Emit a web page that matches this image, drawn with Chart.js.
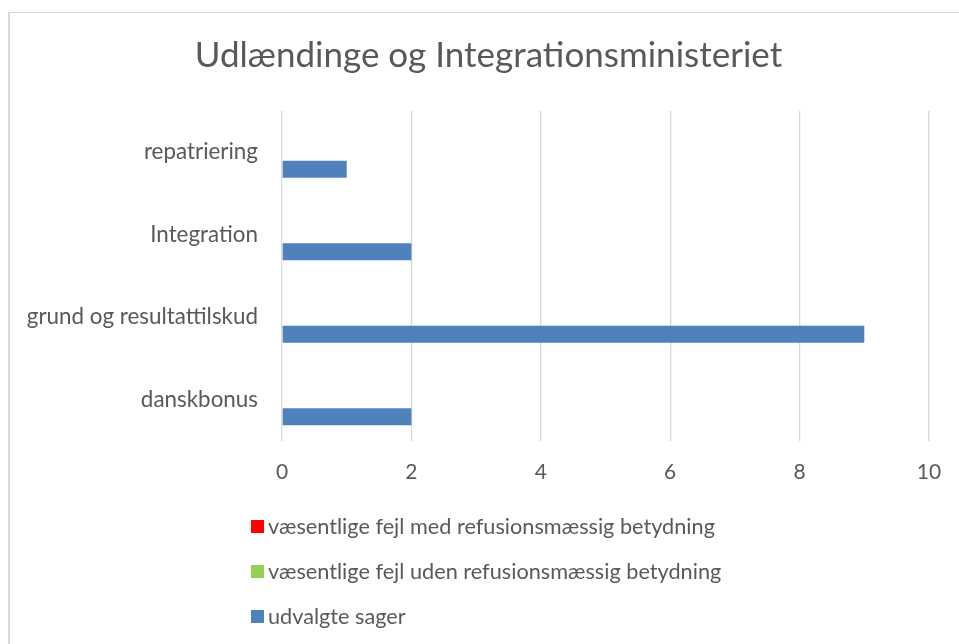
<!DOCTYPE html>
<html>
<head>
<meta charset="utf-8">
<script src="https://cdn.jsdelivr.net/npm/chart.js@4.4.0/dist/chart.umd.min.js"></script>
<style>
  html, body { margin: 0; padding: 0; background: #fff; overflow: hidden; }
  #frame { position: absolute; left: 8px; top: 12px; width: 1000px; height: 700px;
           border-top: 1px solid #d9d9d9; border-left: 2px solid #d9d9d9; }
  #wrap { position: absolute; left: 0; top: 0; width: 959px; height: 644px; }
  #legend { position: absolute; left: 251px; top: 0; font-family: Lato, "Open Sans", sans-serif;
            font-size: 21.7px; color: #595959; }
  .item { position: absolute; left: 0; white-space: nowrap; display: flex; align-items: center; height: 26px; }
  .box { width: 13px; height: 13px; margin-right: 4px; flex: none; }
</style>
</head>
<body>
<div id="frame"></div>
<div id="wrap"><canvas id="c"></canvas></div>
<div id="legend"></div>
<script>
const titleText = 'Udlændinge og Integrationsministeriet';
const categories = ['repatriering', 'Integration', 'grund og resultattilskud', 'danskbonus'];
const seriesNames = [
  'væsentlige fejl med refusionsmæssig betydning',
  'væsentlige fejl uden refusionsmæssig betydning',
  'udvalgte sager'
];
const fejlMedRefusion = [0, 0, 0, 0];
const fejlUdenRefusion = [0, 0, 0, 0];
const udvalgteSager = [1, 2, 9, 2];
const xTicks = [0, 2, 4, 6, 8, 10];
const seriesColors = ['#FF0000', '#92D050', '#4F81BD'];

const FONT = 'Lato, "Open Sans", sans-serif';
const TEXT = '#595959';

// shift the title box so it is centred like the reference
const titleShift = {
  id: 'titleShift',
  afterLayout(c) { if (c.titleBlock) { c.titleBlock.left = 48; } }
};

const chart = new Chart(document.getElementById('c'), {
  type: 'bar',
  data: {
    labels: categories,
    datasets: [
      { label: seriesNames[0], data: fejlMedRefusion, backgroundColor: seriesColors[0] },
      { label: seriesNames[1], data: fejlUdenRefusion, backgroundColor: seriesColors[1] },
      { label: seriesNames[2], data: udvalgteSager, backgroundColor: seriesColors[2] }
    ]
  },
  plugins: [titleShift],
  options: {
    indexAxis: 'y',
    responsive: true,
    maintainAspectRatio: false,
    animation: false,
    datasets: { bar: { barPercentage: 1, categoryPercentage: 0.62, borderWidth: 0 } },
    layout: { padding: { left: 0, right: 30, top: 0, bottom: 163 } },
    plugins: {
      legend: { display: false },
      tooltip: { enabled: false },
      title: {
        display: true,
        text: titleText,
        color: TEXT,
        font: { family: FONT, size: 35, weight: 'normal', lineHeight: 1.2 },
        padding: { top: 35.2, bottom: 33.8 }
      }
    },
    scales: {
      x: {
        min: xTicks[0],
        max: xTicks[xTicks.length - 1],
        afterBuildTicks: (s) => { s.ticks = xTicks.map(v => ({ value: v })); },
        ticks: { color: TEXT, font: { family: FONT, size: 21 }, padding: 19, maxRotation: 0 },
        grid: { color: '#d9d9d9', lineWidth: 1.3, drawTicks: false },
        border: { display: false },
        afterFit: (s) => { s.height = 40; s.paddingLeft = 0; s.paddingRight = 0; }
      },
      y: {
        ticks: { color: TEXT, font: { family: FONT, size: 22.4 }, padding: 24 },
        grid: { display: false, drawTicks: false },
        border: { display: false },
        afterFit: (s) => { s.width = 282; s.paddingTop = 0; s.paddingBottom = 0; }
      }
    }
  }
});

// legend built from the chart's datasets
const legendEl = document.getElementById('legend');
const rowCenters = [526, 571, 616];
chart.data.datasets.forEach((ds, i) => {
  const item = document.createElement('div');
  item.className = 'item';
  item.style.top = (rowCenters[i] - 13) + 'px';
  const box = document.createElement('span');
  box.className = 'box';
  box.style.background = ds.backgroundColor;
  const txt = document.createElement('span');
  txt.textContent = ds.label;
  item.appendChild(box);
  item.appendChild(txt);
  legendEl.appendChild(item);
});
</script>
</body>
</html>
